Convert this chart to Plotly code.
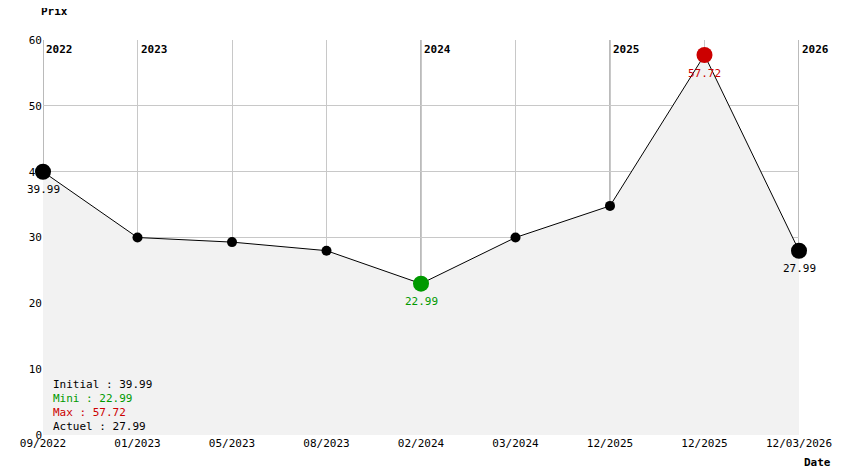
import plotly.graph_objects as go

labels = ["09/2022","01/2023","05/2023","08/2023","02/2024","03/2024","12/2025","12/2025","12/03/2026"]
prices = [39.99, 30.0, 29.3, 28.0, 22.99, 30.0, 34.8, 57.72, 27.99]
year_pos = [0, 1, 4, 6, 8]
year_labels = ["2022", "2023", "2024", "2025", "2026"]
x = list(range(len(labels)))
FONT = "DejaVu Sans Mono"

imin = prices.index(min(prices)); imax = prices.index(max(prices))
colors, sizes = [], []
for i, p in enumerate(prices):
    if i == imin: colors.append("#009900"); sizes.append(16)
    elif i == imax: colors.append("#cc0000"); sizes.append(16)
    elif i in (0, len(prices)-1): colors.append("black"); sizes.append(16)
    else: colors.append("black"); sizes.append(10)

fig = go.Figure()
fig.add_trace(go.Scatter(x=x, y=prices, mode="lines+markers", fill="tozeroy",
    fillcolor="#f2f2f2", line=dict(color="black", width=1),
    marker=dict(color=colors, size=sizes, opacity=1, line=dict(width=0)), hoverinfo="skip", cliponaxis=False))

for i in [0, imin, imax, len(prices)-1]:
    c = "#009900" if i == imin else ("#cc0000" if i == imax else "black")
    fig.add_annotation(x=x[i], y=prices[i], text=f"{prices[i]:.2f}", showarrow=False,
        yshift=-18, font=dict(family=FONT, size=11, color=c))

for p, t in zip(year_pos, year_labels):
    fig.add_shape(type="line", x0=p, x1=p, y0=0, y1=1, yref="paper", xref="x",
                  line=dict(color="#777", width=1), layer="below")
    fig.add_annotation(x=p, y=1, yref="paper", text=f"<b>{t}</b>", showarrow=False,
        xanchor="left", yanchor="top", xshift=1, yshift=-1, font=dict(family=FONT, size=11, color="black"))

legend = [("Initial : %.2f" % prices[0], "black"), ("Mini : %.2f" % min(prices), "#009900"),
          ("Max : %.2f" % max(prices), "#cc0000"), ("Actuel : %.2f" % prices[-1], "black")]
for k, (t, c) in enumerate(legend):
    fig.add_annotation(x=0, y=0, xref="paper", yref="paper", text=t, showarrow=False,
        xanchor="left", yanchor="bottom", xshift=8, yshift=(3 - k) * 14,
        font=dict(family=FONT, size=11, color=c))

fig.add_annotation(x=0, y=1, xref="paper", yref="paper", text="<b>Prix</b>", showarrow=False,
    xanchor="left", yanchor="bottom", xshift=-4, yshift=20, font=dict(family=FONT, size=11))
fig.add_annotation(x=1, y=0, xref="paper", yref="paper", text="<b>Date</b>", showarrow=False,
    xanchor="right", yanchor="top", xshift=34, yshift=-19, font=dict(family=FONT, size=11))

fig.update_layout(width=836, height=466, margin=dict(l=32, r=40, t=32, b=39),
    plot_bgcolor="white", paper_bgcolor="white", showlegend=False,
    font=dict(family=FONT, size=11, color="black"))
fig.update_xaxes(tickvals=x, ticktext=labels, range=[0, 8], showgrid=True, gridcolor="#c8c8c8",
    zeroline=False, showline=False, ticks="", tickfont=dict(family=FONT, size=11))
fig.update_yaxes(range=[0, 60], dtick=10, showgrid=True, gridcolor="#c8c8c8", zeroline=False,
    ticks="", tickfont=dict(family=FONT, size=11))
fig.write_html("out.html")
